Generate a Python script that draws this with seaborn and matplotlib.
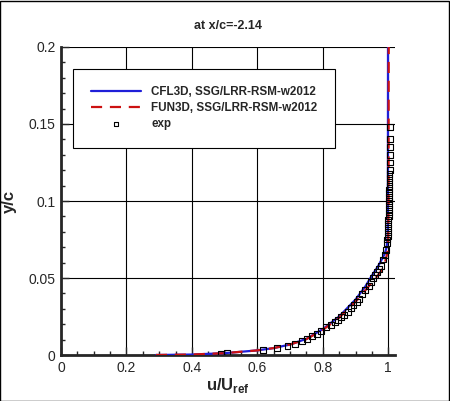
import numpy as np
import pandas as pd
import matplotlib
matplotlib.use("Agg")
import matplotlib.pyplot as plt
import seaborn as sns
from matplotlib.ticker import MultipleLocator

# CFL3D profile (blue solid)
cfl_u = [0.29, 0.40, 0.50, 0.60, 0.65, 0.70, 0.75, 0.80, 0.85, 0.90, 0.93,
         0.95, 0.97, 0.98, 0.99, 0.995, 0.998, 0.999, 0.9993]
cfl_y = [0.0, 0.0003, 0.0012, 0.0030, 0.0045, 0.0068, 0.0105, 0.0168, 0.0250,
         0.0360, 0.0445, 0.0515, 0.0580, 0.0620, 0.0660, 0.0700, 0.0760, 0.1000, 0.2000]

# FUN3D profile (red dashed)
fun_u = [0.29, 0.40, 0.50, 0.60, 0.65, 0.70, 0.75, 0.80, 0.85, 0.90, 0.93,
         0.96, 0.98, 0.99, 0.997, 1.000, 1.001, 1.0015]
fun_y = [0.0, 0.0003, 0.0012, 0.0030, 0.0045, 0.0068, 0.0103, 0.0163, 0.0242,
         0.0345, 0.0420, 0.0495, 0.0550, 0.0600, 0.0660, 0.0750, 0.1000, 0.2000]

# experiment
exp_u = [0.490, 0.507, 0.616, 0.661, 0.692, 0.716, 0.736, 0.753, 0.767, 0.782,
         0.794, 0.810, 0.825, 0.836, 0.846, 0.856, 0.865, 0.876, 0.886, 0.894,
         0.904, 0.912, 0.921, 0.930, 0.940, 0.947, 0.953, 0.960, 0.967, 0.973,
         0.978, 0.984, 0.989, 0.992, 0.996, 0.997, 0.998, 0.999, 0.999, 1.000,
         1.000, 1.001, 1.001, 1.002, 1.002, 1.002, 1.003, 1.003, 1.003, 1.004,
         1.004, 1.004, 1.004, 1.005, 1.005, 1.005, 1.005, 1.005, 1.005]
exp_y = [0.0006, 0.0011, 0.0032, 0.0043, 0.0058, 0.0073, 0.0091, 0.0106, 0.0121, 0.0136,
         0.0158, 0.0180, 0.0197, 0.0216, 0.0227, 0.0245, 0.0262, 0.0281, 0.0303, 0.0323,
         0.0344, 0.0366, 0.0396, 0.0422, 0.0448, 0.0474, 0.0498, 0.0520, 0.0540, 0.0560,
         0.0580, 0.0620, 0.0650, 0.0680, 0.0725, 0.0750, 0.0775, 0.0800, 0.0825, 0.0850,
         0.0875, 0.0900, 0.0925, 0.0950, 0.0975, 0.1000, 0.1025, 0.1050, 0.1075, 0.1100,
         0.1125, 0.1150, 0.1175, 0.1200, 0.1250, 0.1300, 0.1350, 0.1400, 0.1480]

sns.set_style("ticks")
plt.rcParams['font.family'] = ['Liberation Sans', 'DejaVu Sans']

fig = plt.figure(figsize=(4.5, 4.01), dpi=100)
ax = fig.add_axes([0.1356, 0.1147, 0.7424, 0.7681])

cfl = pd.DataFrame({'u': cfl_u, 'y': cfl_y})
fun = pd.DataFrame({'u': fun_u, 'y': fun_y})
exp = pd.DataFrame({'u': exp_u, 'y': exp_y})

sns.lineplot(data=cfl, x='u', y='y', sort=False, estimator=None, color='#1f1fd8',
             lw=1.6, ax=ax, label='CFL3D, SSG/LRR-RSM-w2012', zorder=3)
sns.lineplot(data=fun, x='u', y='y', sort=False, estimator=None, color='#cc1111',
             lw=1.6, ax=ax, label='FUN3D, SSG/LRR-RSM-w2012', zorder=4)
ax.lines[-1].set_dashes([5, 3.5])
sns.scatterplot(data=exp, x='u', y='y', marker='s', s=18, facecolor='none',
                edgecolor='black', linewidth=0.8, ax=ax, label='exp', zorder=5)

ax.set_xlim(0, 1.021)
ax.set_ylim(0, 0.2)
ax.xaxis.set_major_locator(MultipleLocator(0.2))
ax.xaxis.set_minor_locator(MultipleLocator(0.05))
ax.yaxis.set_major_locator(MultipleLocator(0.05))
ax.yaxis.set_minor_locator(MultipleLocator(0.01))
ax.set_xticks([0, 0.2, 0.4, 0.6, 0.8, 1.0])
ax.set_xticklabels(['0', '0.2', '0.4', '0.6', '0.8', '1'])
ax.set_yticks([0, 0.05, 0.1, 0.15, 0.2])
ax.set_yticklabels(['0', '0.05', '0.1', '0.15', '0.2'])
ax.tick_params(which='major', direction='in', length=6, width=1, labelsize=10, pad=4)
ax.tick_params(which='minor', direction='in', length=3, width=1)
ax.grid(True, which='major', color='black', lw=0.8)

for side in ['top', 'right']:
    ax.spines[side].set_visible(False)
for side in ['left', 'bottom']:
    ax.spines[side].set_linewidth(2)

ax.set_title('at x/c=-2.14', fontsize=9, fontweight='bold', pad=13)
ax.set_xlabel('u/U$_{\\mathregular{ref}}$', fontsize=12, fontweight='bold', labelpad=1)
ax.set_ylabel('y/c', fontsize=12, fontweight='bold', labelpad=8)

leg = ax.legend(loc='upper left', bbox_to_anchor=(0.036, 0.93), fontsize=8.4,
                frameon=True, fancybox=False, edgecolor='black', framealpha=1,
                handlelength=4.3, borderpad=1.5, labelspacing=0.35, handletextpad=0.9,
                borderaxespad=0, markerscale=0.7)
leg.get_frame().set_linewidth(0.8)
for t in leg.get_texts():
    t.set_fontweight('bold')

fig.patches.append(plt.Rectangle((0.001, 0.001), 0.997, 0.997, transform=fig.transFigure,
                                 fill=False, edgecolor='black', lw=1))

fig.savefig('out.png', dpi=100)
